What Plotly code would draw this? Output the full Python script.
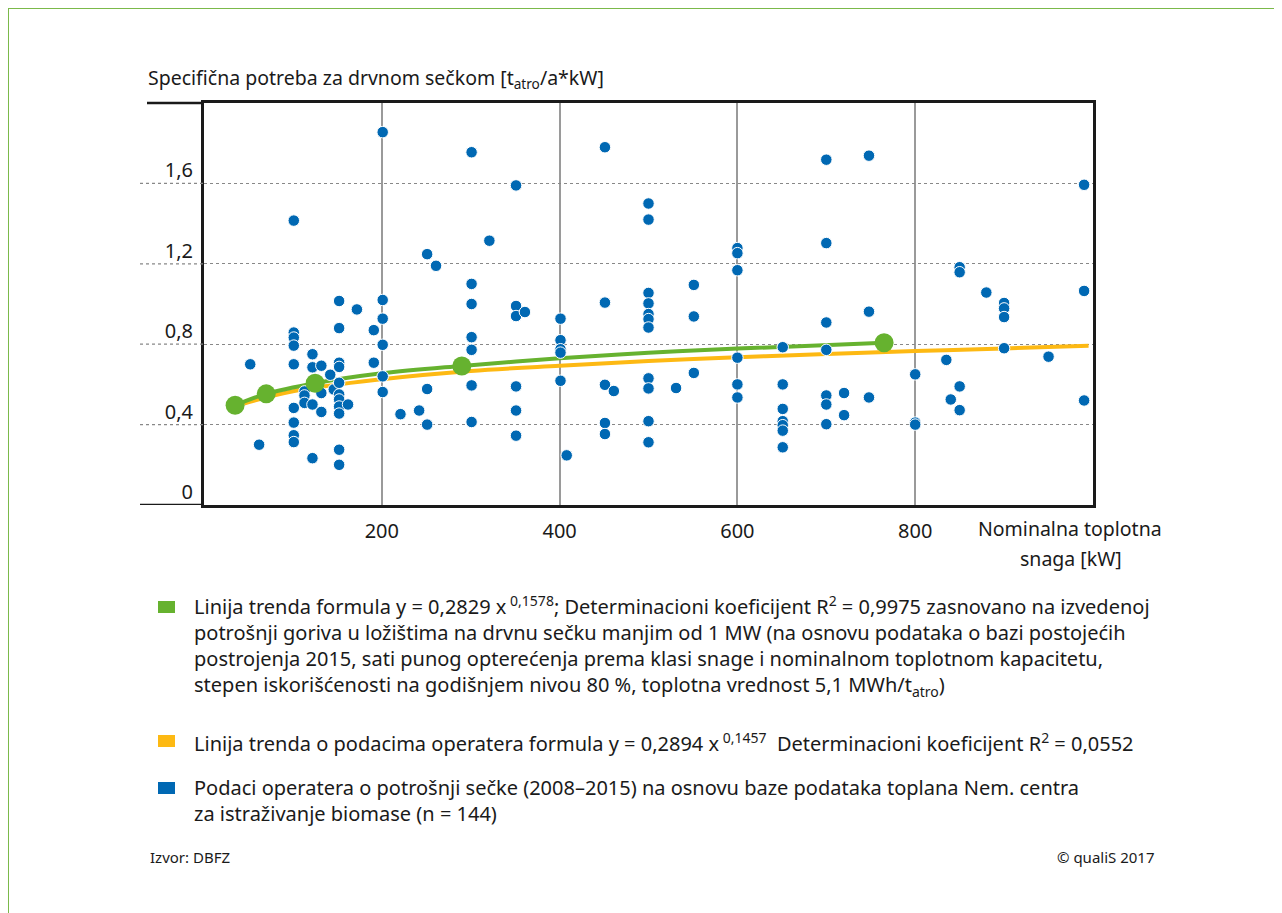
import plotly.graph_objects as go

# Podaci operatera (plave tačke)
snaga_kw = (
    [52, 62]
    + [101] * 9
    + [113] * 3
    + [122] * 4
    + [132] * 3
    + [142, 146]
    + [152] * 11
    + [162, 172, 191, 191]
    + [201] * 6
    + [221, 242, 251, 251, 251, 261]
    + [301] * 7
    + [321]
    + [351] * 6
    + [361]
    + [401] * 5
    + [408]
    + [451] * 5
    + [461]
    + [500] * 11
    + [531]
    + [551] * 3
    + [600] * 6
    + [651] * 7
    + [700] * 7
    + [720, 720]
    + [748] * 3
    + [800] * 3
    + [835, 840]
    + [850] * 4
    + [880]
    + [900] * 4
    + [950]
    + [990] * 3
)
potreba = (
    [0.70, 0.30]
    + [1.415, 0.858, 0.833, 0.793, 0.70, 0.483, 0.41, 0.347, 0.313]
    + [0.565, 0.545, 0.508]
    + [0.75, 0.685, 0.50, 0.233]
    + [0.693, 0.557, 0.463]
    + [0.648, 0.575]
    + [1.015, 0.88, 0.708, 0.687, 0.608, 0.55, 0.525, 0.49, 0.455, 0.275, 0.20]
    + [0.50, 0.973, 0.87, 0.708]
    + [1.855, 1.02, 0.927, 0.797, 0.64, 0.562]
    + [0.452, 0.47, 1.248, 0.577, 0.40, 1.19]
    + [1.755, 1.10, 1.00, 0.835, 0.772, 0.595, 0.413]
    + [1.315]
    + [1.59, 0.99, 0.94, 0.59, 0.47, 0.345]
    + [0.96]
    + [0.927, 0.82, 0.775, 0.758, 0.618]
    + [0.247]
    + [1.78, 1.007, 0.598, 0.408, 0.353]
    + [0.567]
    + [1.50, 1.42, 1.055, 1.003, 0.95, 0.925, 0.883, 0.63, 0.58, 0.417, 0.312]
    + [0.582]
    + [1.095, 0.938, 0.657]
    + [1.278, 1.253, 1.168, 0.733, 0.60, 0.535]
    + [0.785, 0.60, 0.478, 0.417, 0.397, 0.37, 0.287]
    + [1.718, 1.303, 0.908, 0.772, 0.545, 0.50, 0.402]
    + [0.557, 0.447]
    + [1.738, 0.962, 0.535]
    + [0.65, 0.41, 0.40]
    + [0.722, 0.525]
    + [1.183, 1.158, 0.59, 0.472]
    + [1.057]
    + [1.005, 0.978, 0.935, 0.78]
    + [0.738]
    + [1.593, 1.065, 0.52]
)

# Linija trenda (izvedena potrošnja) - zelena
zelena_x = [35, 70, 125, 200, 290, 400, 500, 600, 765]
zelena_y = [0.496, 0.553, 0.606, 0.655, 0.692, 0.730, 0.757, 0.778, 0.807]
zelene_tacke_x = [35, 70, 125, 290, 765]
zelene_tacke_y = [0.496, 0.553, 0.606, 0.692, 0.807]

# Linija trenda podataka operatera - narandžasta
narandzasta_x = [45, 100, 200, 300, 400, 500, 600, 700, 800, 900, 995]
narandzasta_y = [0.505, 0.566, 0.626, 0.667, 0.693, 0.716, 0.735, 0.751, 0.766, 0.779, 0.792]

x_tickovi = [200, 400, 600, 800]
y_tickovi = [0, 0.4, 0.8, 1.2, 1.6]
y_tekst = ["0", "0,4", "0,8", "1,2", "1,6"]

PLAVA = "#0068b3"
ZELENA = "#66b22f"
NARANDZASTA = "#fdb913"
FONT = "Noto Sans"
TAMNA = "#1a1a1a"

# stranica ima marginu od 8 px, pa je figura manja za toliko
W, H = 1274, 905
L, T, PW, PH = 196, 95, 889, 402


def px(x):
    return (x - 204) / PW


def py(y):
    return (505 - y) / PH


fig = go.Figure()

fig.add_trace(go.Scatter(
    x=narandzasta_x, y=narandzasta_y, mode="lines",
    line=dict(color=NARANDZASTA, width=4, shape="spline"),
    hoverinfo="skip",
))
fig.add_trace(go.Scatter(
    x=zelena_x, y=zelena_y, mode="lines",
    line=dict(color=ZELENA, width=4, shape="spline"),
    hoverinfo="skip",
))
fig.add_trace(go.Scatter(
    x=snaga_kw, y=potreba, mode="markers",
    marker=dict(color=PLAVA, size=11.5, line=dict(color="white", width=1)),
))
fig.add_trace(go.Scatter(
    x=zelene_tacke_x, y=zelene_tacke_y, mode="markers",
    marker=dict(color=ZELENA, size=19),
    hoverinfo="skip",
))

fig.update_xaxes(
    range=[0, 1000], tickvals=x_tickovi, ticks="",
    showgrid=True, gridcolor="#9a9a9a", gridwidth=1.5,
    showline=True, linecolor=TAMNA, linewidth=2.5, mirror=True,
    zeroline=False, ticklabelstandoff=6,
    tickfont=dict(family=FONT, size=20, color=TAMNA),
)
fig.update_yaxes(
    range=[0, 2.0], tickvals=y_tickovi, ticktext=y_tekst, ticks="",
    showgrid=True, gridcolor="#888888", gridwidth=1.2, griddash="dot",
    showline=True, linecolor=TAMNA, linewidth=3, mirror=True,
    zeroline=False, ticklabelshift=-13, ticklabelstandoff=4,
    tickfont=dict(family=FONT, size=20, color=TAMNA),
)

shapes = []
# produžeci horizontalnih linija lijevo od ose
for v in y_tickovi[1:]:
    shapes.append(dict(type="line", xref="paper", yref="y", x0=px(140), x1=0, y0=v, y1=v,
                       line=dict(color="#888888", width=1.2, dash="dot")))
shapes.append(dict(type="line", xref="paper", yref="y", x0=px(140), x1=0, y0=0, y1=0,
                   line=dict(color=TAMNA, width=2.5)))
shapes.append(dict(type="line", xref="paper", yref="paper", x0=px(147), x1=0, y0=1, y1=1,
                   line=dict(color=TAMNA, width=2.5)))
# zeleni okvir
for x0, y0, x1, y1 in [(8, 8, 8, 913), (8, 8, 1276, 8), (1276, 8, 1276, 913)]:
    shapes.append(dict(type="line", xref="paper", yref="paper",
                       x0=px(x0), y0=py(y0), x1=px(x1), y1=py(y1),
                       line=dict(color="#7bb94a", width=2)))

# legenda - kvadrati
for yc, c in [(607, ZELENA), (741, NARANDZASTA), (788, PLAVA)]:
    shapes.append(dict(type="rect", xref="paper", yref="paper",
                       x0=px(158), x1=px(175), y0=py(yc - 6), y1=py(yc + 6),
                       fillcolor=c, line=dict(width=0)))

ann = []


def tekst(x, y, s, size=20, xanchor="left"):
    ann.append(dict(xref="paper", yref="paper", x=px(x), y=py(y), text=s, showarrow=False,
                    xanchor=xanchor, yanchor="middle", align=xanchor,
                    font=dict(family=FONT, size=size, color=TAMNA)))


tekst(146, 78, "Specifična potreba za drvnom sečkom [t<sub>atro</sub>/a*kW]", size=19.5)
tekst(1164, 528, "Nominalna toplotna", size=19.5, xanchor="right")
tekst(1124, 558, "snaga [kW]", size=19.5, xanchor="right")

legenda_1 = (
    "Linija trenda formula y = 0,2829 x<sup> 0,1578</sup>; Determinacioni koeficijent R<sup>2</sup> = 0,9975 zasnovano na izvedenoj<br>"
    "potrošnji goriva u ložištima na drvnu sečku manjim od 1 MW (na osnovu podataka o bazi postojećih<br>"
    "postrojenja 2015, sati punog opterećenja prema klasi snage i nominalnom toplotnom kapacitetu,<br>"
    "stepen iskorišćenosti na godišnjem nivou 80 %, toplotna vrednost 5,1 MWh/t<sub>atro</sub>)"
)
legenda_2 = ("Linija trenda o podacima operatera formula y = 0,2894 x<sup> 0,1457</sup>  "
             "Determinacioni koeficijent R<sup>2</sup> = 0,0552")
legenda_3 = (
    "Podaci operatera o potrošnji sečke (2008–2015) na osnovu baze podataka toplana Nem. centra<br>"
    "za istraživanje biomase (n = 144)"
)
tekst(192, 646, legenda_1)
tekst(192, 742, legenda_2)
tekst(192, 800, legenda_3)

tekst(148, 857, "Izvor: DBFZ", size=15)
tekst(1157, 857, "© qualiS 2017", size=15, xanchor="right")

fig.update_layout(
    width=W, height=H,
    margin=dict(l=L, r=W - L - PW, t=T, b=H - T - PH),
    paper_bgcolor="white", plot_bgcolor="white",
    showlegend=False,
    shapes=shapes, annotations=ann,
    font=dict(family=FONT, size=20, color=TAMNA),
)

fig.write_html("out.html")
